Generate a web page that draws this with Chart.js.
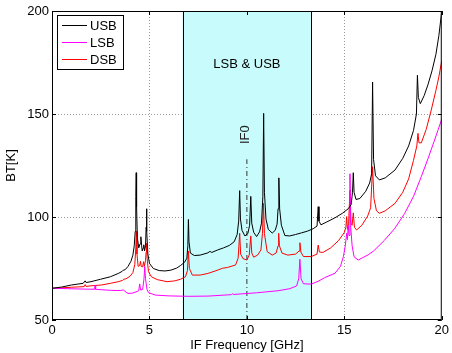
<!DOCTYPE html>
<html>
<head>
<meta charset="utf-8">
<script src="https://cdn.jsdelivr.net/npm/chart.js@4.4.1/dist/chart.umd.min.js"></script>
<style>
  html, body { margin: 0; padding: 0; background: #fff; }
  #wrap { width: 452px; height: 353px; }
</style>
</head>
<body>
<div id="wrap"><canvas id="btChart" width="452" height="353"></canvas></div>
<script>
/* BT vs IF frequency - USB / LSB / DSB */

// USB (black)
const usbFreq = [0, 0.5, 1.0, 1.6, 1.7, 1.75, 2.0, 2.5, 3.0, 3.4, 3.6, 3.66, 3.75, 3.9, 4.05, 4.15, 4.22, 4.27, 4.3, 4.32, 4.34, 4.38, 4.45, 4.52, 4.56, 4.6, 4.63, 4.68, 4.71, 4.75, 4.8, 4.83, 4.85, 4.87, 4.92, 5.0, 5.2, 5.5, 5.8, 6.1, 6.4, 6.6, 6.8, 6.92, 6.97, 7.0, 7.03, 7.1, 7.3, 7.6, 8.0, 8.1, 8.2, 8.5, 8.8, 9.1, 9.35, 9.5, 9.58, 9.63, 9.67, 9.75, 9.9, 10.05, 10.14, 10.2, 10.25, 10.35, 10.5, 10.65, 10.75, 10.82, 10.86, 10.9, 10.98, 11.1, 11.3, 11.45, 11.55, 11.6, 11.64, 11.68, 11.77, 11.95, 12.2, 12.5, 12.8, 13.1, 13.4, 13.6, 13.66, 13.7, 13.8, 14.1, 14.5, 14.9, 15.2, 15.35, 15.42, 15.46, 15.5, 15.6, 15.8, 16.1, 16.3, 16.4, 16.45, 16.5, 16.6, 16.8, 17.1, 17.6, 18.0, 18.3, 18.55, 18.7, 18.75, 18.8, 18.9, 19.1, 19.3, 19.5, 19.7, 19.85, 20.0];
const usbBT = [65.4, 66.0, 67.0, 67.8, 69.0, 68.2, 68.6, 69.8, 71.0, 72.6, 73.6, 74.2, 74.4, 76.0, 78.5, 81.5, 86.0, 93, 110, 121.5, 105, 90, 85.0, 87, 90.4, 86, 83.5, 85, 86.5, 83.5, 86, 95, 104, 93, 82, 77.5, 75, 74, 73.8, 74.2, 75.2, 76.5, 78.0, 80, 86, 98.8, 88, 82.5, 81.3, 81.5, 82.6, 83.3, 82.8, 84, 85, 86.2, 88, 91.5, 98, 112.8, 99, 93.5, 90.8, 92, 96, 110, 97, 92.5, 90.5, 92.8, 97, 110, 150.3, 112, 99, 94, 92.2, 93.5, 96.5, 104, 119, 104, 96, 91, 90.8, 91.5, 92.3, 93.1, 94.3, 95.6, 105, 98, 96.2, 97.6, 99.5, 101.8, 104, 106, 112, 121.5, 112, 108.5, 109, 112.5, 116.5, 121, 165.5, 128, 120, 118, 119, 122.8, 128.5, 134.5, 142, 150, 168.8, 158, 155, 159, 164.5, 171, 179, 188, 200];

// LSB (magenta)
const lsbFreq = [0, 0.8, 1.7, 2.18, 2.21, 2.24, 3.0, 3.5, 3.66, 3.8, 3.9, 4.1, 4.3, 4.45, 4.5, 4.55, 4.65, 4.72, 4.76, 4.8, 4.87, 4.95, 5.3, 6.0, 7.0, 8.0, 9.2, 9.25, 9.3, 10.5, 11.6, 12.2, 12.55, 12.66, 12.72, 12.78, 12.9, 13.3, 13.7, 14.0, 14.52, 14.8, 14.95, 15.05, 15.12, 15.16, 15.2, 15.24, 15.29, 15.33, 15.4, 15.5, 15.71, 15.95, 16.22, 16.5, 17.07, 17.6, 18.1, 18.55, 18.95, 19.3, 19.6, 19.8, 20.0];
const lsbBT = [65.4, 65.2, 65.0, 64.9, 67.0, 64.9, 64.4, 64.3, 64.6, 63.5, 62.9, 63.0, 63.6, 64.2, 67.5, 64.5, 64.8, 70, 75.9, 70, 65, 63.3, 62.1, 61.7, 61.5, 61.6, 62.3, 62.8, 62.4, 63.2, 64.2, 65.2, 66.5, 70, 79.5, 70, 67.6, 67.4, 69, 70.6, 72.7, 76, 80.7, 86, 92.1, 89, 96, 91, 121, 95, 86, 80.7, 79.1, 80.3, 81.6, 83.5, 88.8, 94.6, 101.8, 110, 119.6, 128.5, 136.5, 142, 147.5];

// DSB (red)
const dsbFreq = [0, 0.5, 1.0, 1.65, 1.7, 1.75, 2.0, 2.55, 3.0, 3.4, 3.62, 3.68, 3.8, 4.0, 4.15, 4.25, 4.3, 4.33, 4.36, 4.42, 4.5, 4.54, 4.58, 4.65, 4.7, 4.74, 4.8, 4.83, 4.85, 4.88, 4.95, 5.1, 5.4, 5.9, 6.3, 6.6, 6.85, 6.95, 7.0, 7.05, 7.2, 7.6, 8.0, 8.5, 8.74, 9.0, 9.42, 9.55, 9.63, 9.68, 9.8, 10.0, 10.12, 10.2, 10.25, 10.35, 10.55, 10.72, 10.8, 10.85, 10.9, 11.04, 11.3, 11.5, 11.6, 11.63, 11.67, 11.8, 12.1, 12.5, 12.68, 12.72, 12.77, 12.9, 13.3, 13.6, 13.66, 13.72, 13.9, 14.3, 14.7, 15.0, 15.08, 15.12, 15.16, 15.22, 15.29, 15.34, 15.4, 15.46, 15.52, 15.63, 15.9, 16.2, 16.35, 16.45, 16.52, 16.65, 16.8, 17.1, 17.6, 18.0, 18.3, 18.55, 18.72, 18.78, 18.83, 18.95, 19.2, 19.46, 19.7, 19.85, 20.0];
const dsbBT = [65.4, 65.6, 65.9, 66.2, 67.2, 66.3, 66.6, 67.0, 67.8, 68.6, 69.2, 69.8, 70.0, 71.2, 73, 77, 85, 93, 82, 76, 76.5, 78.5, 76, 75.8, 78.3, 76, 79, 83, 87.2, 80, 73.5, 71, 69.6, 68.6, 69, 69.8, 71, 74, 83.5, 75, 71.8, 71.8, 72.6, 74.2, 75.1, 75.5, 76.7, 80, 92.1, 82, 79.8, 79.1, 81.5, 90.8, 82.5, 80.5, 81.5, 84, 92, 106.6, 92, 83.2, 81.5, 82.5, 86, 92.1, 86, 82.5, 81.5, 82, 83.5, 87.5, 83, 80.8, 80.8, 82, 86.4, 83, 82.8, 85, 88.5, 92.5, 95, 100.2, 94, 97, 113, 97, 96, 102, 95, 93.7, 96, 100.5, 104.5, 124.4, 109, 103, 101.8, 103, 106.6, 112, 118.5, 127.5, 134.5, 140.6, 136, 136, 142.5, 151.9, 161.5, 168, 176];

// IF band and IF0 marker
const ifBand = [6.7, 13.3];
const if0Freq = [10, 10];
const if0BT = [50, 128];

const xTicks = [0, 5, 10, 15, 20];
const yTicks = [50, 100, 150, 200];

const FONT = '"Liberation Sans", Arial, Helvetica, sans-serif';

function toPoints(xs, ys) {
  return xs.map(function(x, i) { return { x: x, y: ys[i] }; });
}

const matlabPlugin = {
  id: 'matlab',
  beforeDatasetsDraw(chart) {
    const ctx = chart.ctx;
    const { top, bottom } = chart.chartArea;
    const xs = chart.scales.x;
    const x1 = xs.getPixelForValue(ifBand[0]);
    const x2 = xs.getPixelForValue(ifBand[1]);
    ctx.save();
    ctx.fillStyle = '#c8fbfb';
    ctx.fillRect(x1, top, x2 - x1, bottom - top);
    ctx.strokeStyle = '#000';
    ctx.lineWidth = 1;
    ctx.beginPath();
    ctx.moveTo(Math.round(x1) + 0.5, top); ctx.lineTo(Math.round(x1) + 0.5, bottom);
    ctx.moveTo(Math.round(x2) + 0.5, top); ctx.lineTo(Math.round(x2) + 0.5, bottom);
    ctx.stroke();
    ctx.restore();
  },
  afterDatasetsDraw(chart) {
    const ctx = chart.ctx;
    const { top, bottom, left, right } = chart.chartArea;
    const xs = chart.scales.x, ys = chart.scales.y;
    ctx.save();
    // frame
    ctx.strokeStyle = '#000';
    ctx.lineWidth = 1;
    ctx.strokeRect(left + 0.5, top + 0.5, right - left - 1, bottom - top - 1);
    // inward ticks
    ctx.beginPath();
    xTicks.forEach(function(v) {
      const px = Math.round(xs.getPixelForValue(v)) + 0.5;
      ctx.moveTo(px, bottom); ctx.lineTo(px, bottom - 4);
      ctx.moveTo(px, top); ctx.lineTo(px, top + 4);
    });
    yTicks.forEach(function(v) {
      const py = Math.round(ys.getPixelForValue(v)) + 0.5;
      ctx.moveTo(left, py); ctx.lineTo(left + 4, py);
      ctx.moveTo(right, py); ctx.lineTo(right - 4, py);
    });
    ctx.stroke();

    // labels
    ctx.fillStyle = '#000';
    ctx.font = '13px ' + FONT;
    ctx.textAlign = 'center';
    ctx.textBaseline = 'middle';
    ctx.fillText('LSB & USB', xs.getPixelForValue(10), ys.getPixelForValue(174));
    ctx.save();
    ctx.translate(xs.getPixelForValue(10) - 1, ys.getPixelForValue(140));
    ctx.rotate(-Math.PI / 2);
    ctx.fillStyle = '#222';
    ctx.fillText('IF0', 0, 0);
    ctx.restore();

    // legend box
    const lx = left + 5, ly = top + 4, lw = 66, lh = 54;
    ctx.fillStyle = '#fff';
    ctx.fillRect(lx, ly, lw, lh);
    ctx.strokeStyle = '#000';
    ctx.strokeRect(lx + 0.5, ly + 0.5, lw, lh);
    ctx.textAlign = 'left';
    chart.data.datasets.slice(0, 3).forEach(function(ds, i) {
      const ry = ly + 10 + i * 17;
      ctx.strokeStyle = ds.borderColor;
      ctx.beginPath();
      ctx.moveTo(lx + 5, ry + 0.5); ctx.lineTo(lx + 30, ry + 0.5);
      ctx.stroke();
      ctx.fillStyle = '#000';
      ctx.fillText(ds.label, lx + 33, ry + 1);
    });
    ctx.restore();
  }
};

Chart.defaults.font.family = FONT;
Chart.defaults.font.size = 13;
Chart.defaults.color = '#000';

new Chart(document.getElementById('btChart'), {
  type: 'line',
  data: {
    datasets: [
      { label: 'USB', data: toPoints(usbFreq, usbBT), borderColor: '#000000', borderWidth: 1, pointRadius: 0, tension: 0 },
      { label: 'LSB', data: toPoints(lsbFreq, lsbBT), borderColor: '#ff00ff', borderWidth: 1, pointRadius: 0, tension: 0 },
      { label: 'DSB', data: toPoints(dsbFreq, dsbBT), borderColor: '#ff0000', borderWidth: 1, pointRadius: 0, tension: 0 },
      { label: 'IF0', data: toPoints(if0Freq, if0BT), borderColor: '#333333', borderWidth: 1, pointRadius: 0, borderDash: [5, 3, 1, 3] }
    ]
  },
  plugins: [matlabPlugin],
  options: {
    responsive: false,
    animation: false,
    devicePixelRatio: 1,
    layout: { padding: { top: 11, right: 8, left: 0, bottom: 0 } },
    plugins: { legend: { display: false }, tooltip: { enabled: false } },
    scales: {
      x: {
        type: 'linear', min: 0, max: 20,
        afterBuildTicks: function(s) { s.ticks = xTicks.map(function(v) { return { value: v }; }); },
        afterFit: function(s) { s.height = 33; },
        ticks: { padding: 3, maxRotation: 0, color: '#000' },
        grid: {
          drawTicks: false,
          color: function(c) { return (c.tick && (c.tick.value === 0 || c.tick.value === 20)) ? 'rgba(0,0,0,0)' : '#999'; }
        },
        border: { display: false, dash: [1, 2] },
        title: { display: true, text: 'IF Frequency [GHz]', padding: { top: 0, bottom: 0 }, color: '#000' }
      },
      y: {
        type: 'linear', min: 50, max: 200,
        afterBuildTicks: function(s) { s.ticks = yTicks.map(function(v) { return { value: v }; }); },
        afterFit: function(s) { s.width = 52; },
        ticks: { padding: 3, color: '#000' },
        grid: {
          drawTicks: false,
          color: function(c) { return (c.tick && (c.tick.value === 50 || c.tick.value === 200)) ? 'rgba(0,0,0,0)' : '#999'; }
        },
        border: { display: false, dash: [1, 2] },
        title: { display: true, text: 'BT[K]', padding: { top: 4, bottom: 0 }, color: '#000' }
      }
    }
  }
});
</script>
</body>
</html>
